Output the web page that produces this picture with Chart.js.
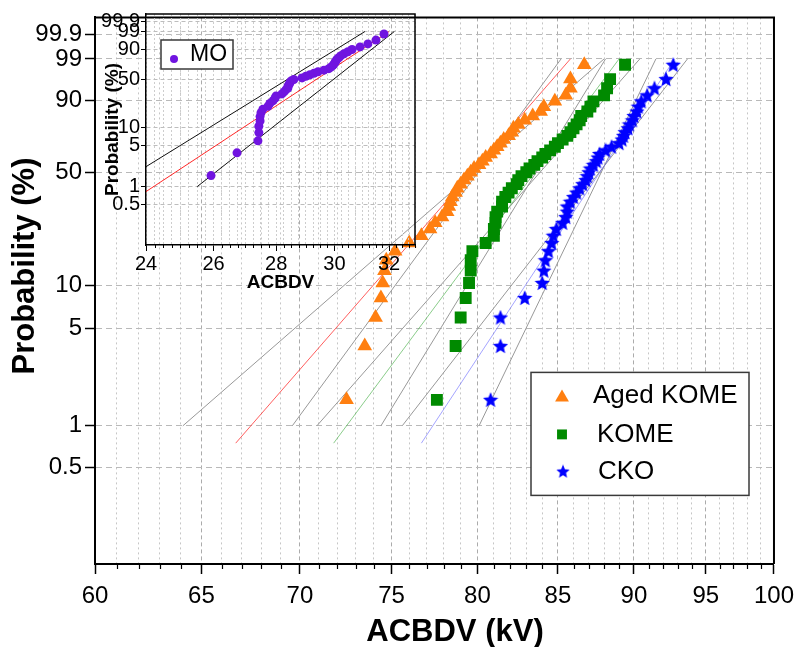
<!DOCTYPE html>
<html>
<head>
<meta charset="utf-8">
<title>ACBDV Weibull plot</title>
<script src="https://cdn.jsdelivr.net/npm/chart.js@4.4.1/dist/chart.umd.min.js"></script>
<style>
  html, body { margin: 0; padding: 0; background: #fff; }
  #wrap { position: relative; width: 802px; height: 647px; }
  #main { position: absolute; left: 0; top: 0; }
  #inset { position: absolute; left: 96px; top: 0; }
</style>
</head>
<body>
<div id="wrap">
  <canvas id="main" width="802" height="647"></canvas>
  <canvas id="inset" width="330" height="300"></canvas>
</div>
<script>
// cumulative probability (%) of each ranked breakdown, 45 shots per oil
const probability = [1.54, 3.74, 5.95, 8.15, 10.35, 12.56, 14.76, 16.96, 19.16, 21.37,
  23.57, 25.77, 27.97, 30.18, 32.38, 34.58, 36.78, 38.99, 41.19, 43.39,
  45.59, 47.80, 50.00, 52.20, 54.41, 56.61, 58.81, 61.01, 63.22, 65.42,
  67.62, 69.82, 72.03, 74.23, 76.43, 78.63, 80.84, 83.04, 85.24, 87.44,
  89.65, 91.85, 94.05, 96.26, 98.46];

// breakdown voltages (kV), sorted
const agedKome = [72.5, 73.5, 74.1, 74.4, 74.5, 74.6, 74.7, 75.2, 76.0, 76.7,
  77.2, 77.5, 77.9, 78.2, 78.3, 78.4, 78.5, 78.7, 78.8, 79.0,
  79.2, 79.4, 79.6, 79.8, 80.1, 80.3, 80.5, 80.8, 81.0, 81.2,
  81.4, 81.6, 81.9, 82.1, 82.2, 82.5, 82.9, 83.4, 83.9, 84.1,
  84.8, 85.5, 85.8, 85.8, 86.7];
const kome = [77.6, 78.7, 79.0, 79.3, 79.5, 79.6, 79.6, 79.7, 80.5, 81.0,
  81.0, 81.1, 81.1, 81.2, 81.5, 81.5, 81.7, 81.9, 82.1, 82.4,
  82.5, 82.7, 83.0, 83.2, 83.5, 83.7, 84.0, 84.2, 84.5, 84.8,
  85.0, 85.3, 85.6, 85.8, 86.0, 86.2, 86.4, 86.5, 86.9, 87.1,
  87.3, 88.0, 88.2, 88.4, 89.4];
const cko = [80.8, 81.4, 81.4, 82.9, 84.0, 84.1, 84.2, 84.4, 84.6, 84.7,
  84.9, 85.3, 85.5, 85.6, 85.6, 85.8, 86.0, 86.2, 86.4, 86.6,
  86.8, 86.9, 87.0, 87.1, 87.3, 87.5, 87.6, 87.7, 88.1, 88.5,
  89.0, 89.2, 89.3, 89.4, 89.6, 89.7, 89.9, 90.0, 90.2, 90.3,
  90.5, 90.9, 91.4, 92.2, 92.7];
const mo = [25.92, 26.73, 27.40, 27.43, 27.43, 27.47, 27.47, 27.50, 27.56, 27.73,
  27.79, 27.89, 27.96, 27.99, 28.19, 28.26, 28.32, 28.39, 28.39, 28.43,
  28.46, 28.49, 28.59, 28.87, 29.00, 29.14, 29.28, 29.42, 29.63, 29.80,
  29.87, 29.94, 29.98, 30.02, 30.05, 30.09, 30.16, 30.23, 30.34, 30.48,
  30.63, 30.92, 31.21, 31.51, 31.81];

// Weibull fit lines and confidence bounds: [kV low, % low, kV high, % high]
const agedKomeFit = [66.7, 0.75, 85.8, 99];
const agedKomeBounds = [[64.1, 1, 88.0, 99], [69.6, 1, 85.2, 99]];
const komeFit = [71.8, 0.75, 89.0, 99];
const komeBounds = [[70.9, 1, 90.4, 99], [74.4, 1, 88.1, 99]];
const ckoFit = [76.7, 0.75, 92.8, 99];
const ckoBounds = [[75.6, 1, 93.7, 99], [80.1, 1, 91.5, 99]];
const moFit = [23.9, 0.75, 32.0, 99];
const moBounds = [[23.1, 1, 31.1, 99], [25.5, 1, 32.2, 99]];

// axis ticks
const probTicks = [0.5, 1, 5, 10, 50, 90, 99, 99.9];
const kvLabels = [60, 65, 70, 75, 80, 85, 90, 95, 100];
const moKvLabels = [24, 26, 28, 30, 32];

const FONT = "'Liberation Sans', Arial, sans-serif";
const ORANGE = '#ff7f10';
const GREEN = '#008a00';
const BLUE = '#0000ff';
const PURPLE = '#7014e0';
const GRAY = '#989898';

Chart.defaults.font.family = FONT;
Chart.defaults.color = '#000';

// probability axis is linear in ln(-ln(1-F))
const weib = p => Math.log(-Math.log(1 - p / 100));
const pts = xs => xs.map((x, i) => ({ x: x, y: weib(probability[i]) }));
const seg = s => [{ x: s[0], y: weib(s[1]) }, { x: s[2], y: weib(s[3]) }];

function starImage(color, size) {
  const c = document.createElement('canvas');
  c.width = c.height = size;
  const g = c.getContext('2d');
  const r = size / 2, ri = r * 0.45;
  g.beginPath();
  for (let k = 0; k < 10; k++) {
    const a = -Math.PI / 2 + k * Math.PI / 5;
    const rr = k % 2 ? ri : r;
    g.lineTo(r + rr * Math.cos(a), r + rr * 1.04 * Math.sin(a) + 0.6);
  }
  g.closePath();
  g.fillStyle = color;
  g.fill();
  return c;
}

function drawMarker(ctx, ds, x, y, r) {
  const style = ds.pointStyle;
  if (style instanceof HTMLCanvasElement) {
    const s = r * 2;
    ctx.drawImage(style, x - s / 2, y - s / 2, s, s);
    return;
  }
  ctx.fillStyle = ds.backgroundColor;
  ctx.beginPath();
  if (style === 'triangle') {
    ctx.moveTo(x, y - r);
    ctx.lineTo(x + r * 0.866, y + r / 2);
    ctx.lineTo(x - r * 0.866, y + r / 2);
    ctx.closePath();
  } else if (style === 'rect') {
    ctx.rect(x - r * 0.707, y - r * 0.707, r * 1.414, r * 1.414);
  } else {
    ctx.arc(x, y, r, 0, Math.PI * 2);
  }
  ctx.fill();
}

// top/right frame of the plot box
const frame = {
  id: 'frame',
  afterDraw(chart, args, o) {
    const { ctx, chartArea: a } = chart;
    ctx.save();
    ctx.strokeStyle = '#000';
    ctx.lineWidth = o.width;
    ctx.beginPath();
    ctx.moveTo(a.left, a.top);
    ctx.lineTo(a.right, a.top);
    ctx.lineTo(a.right, a.bottom);
    ctx.stroke();
    ctx.restore();
  }
};

// short tick marks for the minor x ticks
const minorTicks = {
  id: 'minorTicks',
  afterDraw(chart, args, o) {
    const sx = chart.scales.x, ctx = chart.ctx;
    ctx.save();
    ctx.strokeStyle = '#000';
    ctx.lineWidth = o.width;
    ctx.beginPath();
    sx.ticks.forEach(t => {
      if (t.major) return;
      const px = Math.round(sx.getPixelForValue(t.value)) + 0.5;
      ctx.moveTo(px, sx.top);
      ctx.lineTo(px, sx.top + o.length);
    });
    ctx.stroke();
    ctx.restore();
  }
};

// axis titles placed freely (Origin style layout)
const axisTitles = {
  id: 'axisTitles',
  afterDraw(chart, args, o) {
    const ctx = chart.ctx;
    ctx.save();
    ctx.fillStyle = '#000';
    ctx.font = o.font;
    ctx.textAlign = 'center';
    ctx.textBaseline = 'middle';
    ctx.fillText(o.x.text, o.x.cx, o.x.cy);
    ctx.translate(o.y.cx, o.y.cy);
    ctx.rotate(-Math.PI / 2);
    ctx.fillText(o.y.text, 0, 0);
    ctx.restore();
  }
};

// boxed legend placed inside the plot area
const boxLegend = {
  id: 'boxLegend',
  afterDatasetsDraw(chart, args, o) {
    const { ctx, chartArea: a } = chart;
    const x = a.left + o.x, y = a.top + o.y;
    ctx.save();
    ctx.fillStyle = '#fff';
    ctx.fillRect(x, y, o.w, o.h);
    ctx.lineWidth = 1.5;
    ctx.strokeStyle = '#3a3a3a';
    ctx.strokeRect(x, y, o.w, o.h);
    ctx.font = o.font;
    ctx.textBaseline = 'middle';
    o.items.forEach(it => {
      const ds = chart.data.datasets[it.dataset];
      drawMarker(ctx, ds, x + it.mx, y + it.my, it.r);
      ctx.fillStyle = '#000';
      ctx.fillText(ds.label, x + it.tx, y + it.ty);
    });
    ctx.restore();
  }
};

function steps(from, to, step) {
  const out = [];
  for (let v = from; v <= to + 1e-9; v += step) out.push(Math.round(v * 100) / 100);
  return out;
}

function lineSet(s, color, width) {
  return { label: '', data: seg(s), showLine: true, pointRadius: 0, borderColor: color, borderWidth: width };
}

// ---- main plot ----
const kvSteps = steps(60, 100, 1);
const starBlue = starImage(BLUE, 16);

new Chart(document.getElementById('main'), {
  type: 'scatter',
  data: {
    datasets: [
      { label: 'Aged KOME', data: pts(agedKome), pointStyle: 'triangle', pointRadius: 8.5,
        backgroundColor: ORANGE, borderColor: ORANGE, borderWidth: 0 },
      { label: 'KOME', data: pts(kome), pointStyle: 'rect', pointRadius: 8.4,
        backgroundColor: GREEN, borderColor: GREEN, borderWidth: 0 },
      { label: 'CKO', data: pts(cko), pointStyle: starBlue, pointRadius: 8,
        backgroundColor: BLUE, borderColor: BLUE, borderWidth: 0 },
      lineSet(agedKomeFit, 'rgba(255,40,40,0.75)', 1),
      lineSet(komeFit, 'rgba(60,170,60,0.6)', 1),
      lineSet(ckoFit, 'rgba(90,90,255,0.55)', 1),
      ...agedKomeBounds.map(b => lineSet(b, GRAY, 1)),
      ...komeBounds.map(b => lineSet(b, GRAY, 1)),
      ...ckoBounds.map(b => lineSet(b, GRAY, 1))
    ]
  },
  options: {
    responsive: false,
    animation: false,
    devicePixelRatio: 1,
    events: [],
    layout: { padding: { top: 11, right: 25, left: 0, bottom: 0 } },
    plugins: {
      legend: { display: false },
      tooltip: { enabled: false },
      frame: { width: 2 },
      minorTicks: { length: 5, width: 1.2 },
      axisTitles: {
        font: 'bold 31px ' + FONT,
        x: { text: 'ACBDV (kV)', cx: 455, cy: 632 },
        y: { text: 'Probability (%)', cx: 25, cy: 266 }
      },
      boxLegend: {
        x: 436, y: 355, w: 218, h: 123, font: '26px ' + FONT,
        items: [
          { dataset: 0, mx: 31, my: 25, r: 8, tx: 62, ty: 23 },
          { dataset: 1, mx: 31, my: 62, r: 7, tx: 66, ty: 62 },
          { dataset: 2, mx: 32, my: 99, r: 7, tx: 67, ty: 99 }
        ]
      }
    },
    scales: {
      x: {
        type: 'logarithmic',
        min: 60, max: 100, bounds: 'data',
        afterBuildTicks: s => { s.ticks = kvSteps.map(v => ({ value: v, major: kvLabels.includes(v) })); },
        afterFit: s => { s.height = 83; },
        ticks: {
          autoSkip: false, maxRotation: 0, padding: 8,
          font: { size: 24 },
          callback: (v, i, t) => (t[i].major ? String(v) : '')
        },
        grid: {
          color: c => (c.tick && c.tick.major ? '#ababab' : '#c6c6c6'),
          lineWidth: 1,
          tickLength: 10,
          tickWidth: 1.5,
          tickColor: c => (c.tick && c.tick.major ? '#000' : 'rgba(0,0,0,0)')
        },
        border: { color: '#000', width: 2, dash: c => (c.tick && c.tick.major ? [4, 3] : [2, 3]) },
        title: { display: false }
      },
      y: {
        type: 'linear',
        min: weib(0.1), max: weib(99.99), bounds: 'data',
        afterBuildTicks: s => { s.ticks = probTicks.map(p => ({ value: weib(p) })); },
        afterFit: s => { s.width = 95; },
        ticks: {
          autoSkip: false, padding: 3,
          font: { size: 24 },
          callback: (v, i) => String(probTicks[i])
        },
        grid: { color: '#b9b9b9', lineWidth: 1, tickLength: 10, tickWidth: 1.5, tickColor: '#000' },
        border: { color: '#000', width: 2, dash: [6, 4] },
        title: { display: false }
      }
    }
  },
  plugins: [frame, minorTicks, boxLegend, axisTitles]
});

// ---- inset: MO ----
const moSteps = steps(24, 33, 0.25);

new Chart(document.getElementById('inset'), {
  type: 'scatter',
  data: {
    datasets: [
      { label: 'MO', data: pts(mo), pointStyle: 'circle', pointRadius: 4.5,
        backgroundColor: PURPLE, borderColor: PURPLE, borderWidth: 0 },
      lineSet(moFit, 'rgba(255,0,0,0.85)', 1),
      ...moBounds.map(b => lineSet(b, '#111', 1))
    ]
  },
  options: {
    responsive: false,
    animation: false,
    devicePixelRatio: 1,
    events: [],
    layout: { padding: { top: 14, right: 11, left: 0, bottom: 0 } },
    plugins: {
      legend: { display: false },
      tooltip: { enabled: false },
      frame: { width: 1.5 },
      minorTicks: { length: 3, width: 1 },
      boxLegend: {
        x: 15, y: 26, w: 72, h: 29, font: '23px ' + FONT,
        items: [{ dataset: 0, mx: 13, my: 19, r: 4, tx: 29, ty: 15 }]
      }
    },
    scales: {
      x: {
        type: 'logarithmic',
        min: 24, max: 33, bounds: 'data',
        afterBuildTicks: s => { s.ticks = moSteps.map(v => ({ value: v, major: moKvLabels.includes(v) })); },
        afterFit: s => { s.height = 55; },
        ticks: {
          autoSkip: false, maxRotation: 0, padding: 1,
          font: { size: 20 },
          callback: (v, i, t) => (t[i].major ? String(v) : '')
        },
        grid: {
          color: '#cdcdcd', lineWidth: 1, tickLength: 6, tickWidth: 1,
          tickColor: c => (c.tick && c.tick.major ? '#000' : 'rgba(0,0,0,0)')
        },
        border: { color: '#000', width: 1.5, dash: [2, 2] },
        title: {
          display: true, text: 'ACBDV',
          font: { size: 19, weight: 'bold', lineHeight: 1.2 },
          padding: { top: 0, bottom: 6 }
        }
      },
      y: {
        type: 'linear',
        min: weib(0.1), max: weib(99.99), bounds: 'data',
        afterBuildTicks: s => { s.ticks = probTicks.map(p => ({ value: weib(p) })); },
        afterFit: s => { s.width = 50; },
        ticks: {
          autoSkip: false, padding: 1,
          font: { size: 20 },
          callback: (v, i) => String(probTicks[i])
        },
        grid: { color: '#bdbdbd', lineWidth: 1, tickLength: 5, tickWidth: 1, tickColor: '#000' },
        border: { color: '#000', width: 1.5, dash: [4, 3] },
        title: {
          display: true, text: 'Probability (%)',
          font: { size: 19, weight: 'bold', lineHeight: 1.2 },
          padding: { top: 5, bottom: 0 }
        }
      }
    }
  },
  plugins: [frame, minorTicks, boxLegend]
});
</script>
</body>
</html>
